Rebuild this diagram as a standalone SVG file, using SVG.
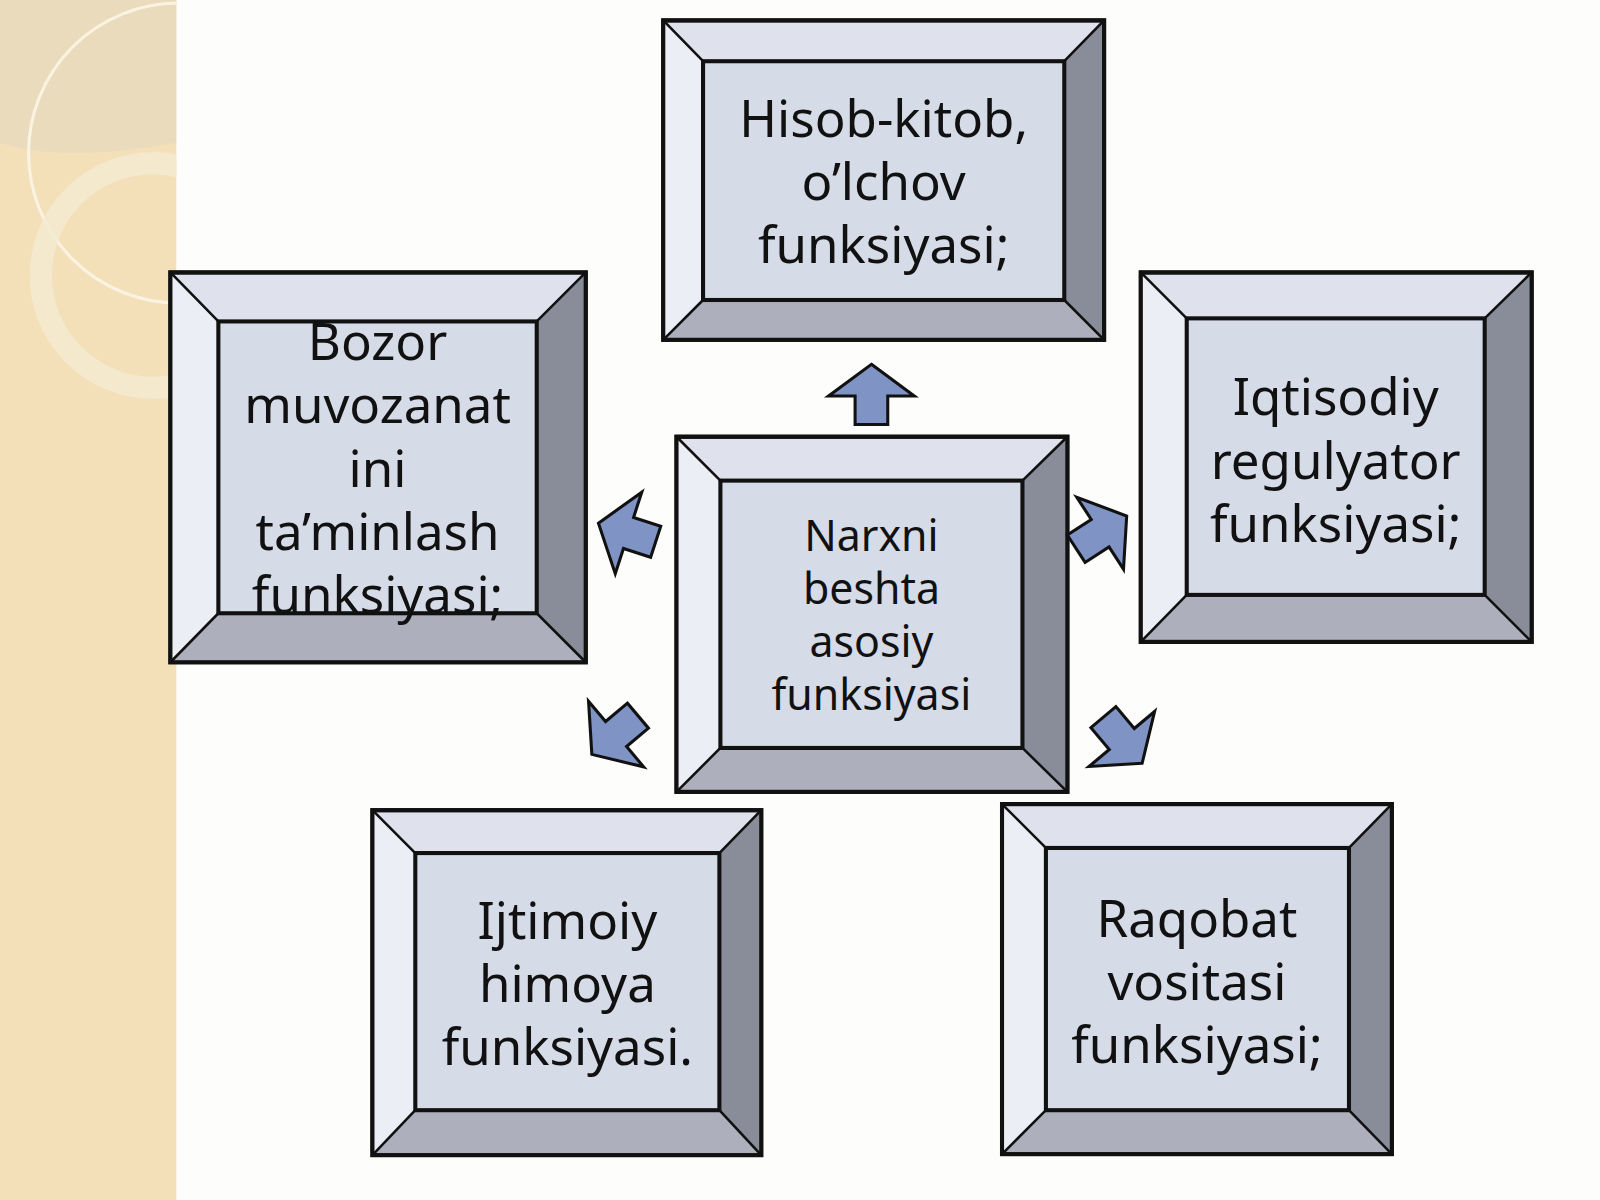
<svg xmlns="http://www.w3.org/2000/svg" width="1600" height="1200" viewBox="0 0 1600 1200">
<style>
.o{stroke:#111;stroke-width:4;stroke-linejoin:miter}
.t{fill:#dfe2ed}.l{fill:#eceef5}.r{fill:#898c99}.b{fill:#adb0bc}.c{fill:#d6dbe8}
.e{stroke:#111;stroke-width:2.5;fill:none}
text{font-family:"Noto Sans","Open Sans",sans-serif;fill:#111;text-anchor:middle}
.big{font-size:50px}.mid{font-size:42px}
.ar{fill:#7f93c4;stroke:#111;stroke-width:3;stroke-linejoin:miter}
</style>
<defs>
<path id="arw" d="M0,-30 L42,1 L16,1 L16,29 L-16,29 L-16,1 L-42,1 Z"/>
<clipPath id="strip"><rect x="0" y="0" width="173" height="1176"/></clipPath>
</defs>
<rect width="1600" height="1200" fill="#fdfdfb"/>
<g transform="scale(1.0204)">
<g id="bg" clip-path="url(#strip)">
<rect x="0" y="0" width="173" height="1176" fill="#f3dfb8"/>
<path d="M0,0 H173 V140 Q60,160 0,140 Z" fill="#e6d8bf" opacity="0.6"/>
<circle cx="175" cy="150" r="147" fill="none" stroke="#fbf3e2" stroke-width="3"/>
<circle cx="150" cy="270" r="110" fill="none" stroke="#f4ead2" stroke-width="22" opacity="0.8"/>
</g>
<g id="top">
<rect class="o t" x="650" y="20" width="432" height="313"/>
<polygon class="l" points="650,20 689,60 689,294 650,333"/>
<polygon class="r" points="1082,20 1043,60 1043,294 1082,333"/>
<polygon class="b" points="650,333 689,294 1043,294 1082,333"/>
<rect class="c" x="689" y="60" width="354" height="234"/>
<rect class="o" fill="none" x="650" y="20" width="432" height="313"/>
<path class="e" d="M650,20 L689,60 M1082,20 L1043,60 M650,333 L689,294 M1082,333 L1043,294"/>
<rect class="o" fill="none" x="689" y="60" width="354" height="234"/>
<text class="big" x="866" y="134">Hisob-kitob,</text>
<text class="big" x="866" y="196">o’lchov</text>
<text class="big" x="866" y="258">funksiyasi;</text>
</g>
<g id="left">
<rect class="o t" x="167" y="267" width="407" height="382"/>
<polygon class="l" points="167,267 214,315 214,601 167,649"/>
<polygon class="r" points="574,267 526,315 526,601 574,649"/>
<polygon class="b" points="167,649 214,601 526,601 574,649"/>
<rect class="c" x="214" y="315" width="312" height="286"/>
<rect class="o" fill="none" x="167" y="267" width="407" height="382"/>
<path class="e" d="M167,267 L214,315 M574,267 L526,315 M167,649 L214,601 M574,649 L526,601"/>
<rect class="o" fill="none" x="214" y="315" width="312" height="286"/>
<text class="big" x="370" y="353">Bozor</text>
<text class="big" x="370" y="415">muvozanat</text>
<text class="big" x="370" y="477">ini</text>
<text class="big" x="370" y="539">ta’minlash</text>
<text class="big" x="370" y="601">funksiyasi;</text>
</g>
<g id="right">
<rect class="o t" x="1118" y="267" width="383" height="362"/>
<polygon class="l" points="1118,267 1163,312 1163,583 1118,629"/>
<polygon class="r" points="1501,267 1455,312 1455,583 1501,629"/>
<polygon class="b" points="1118,629 1163,583 1455,583 1501,629"/>
<rect class="c" x="1163" y="312" width="292" height="271"/>
<rect class="o" fill="none" x="1118" y="267" width="383" height="362"/>
<path class="e" d="M1118,267 L1163,312 M1501,267 L1455,312 M1118,629 L1163,583 M1501,629 L1455,583"/>
<rect class="o" fill="none" x="1163" y="312" width="292" height="271"/>
<text class="big" x="1309" y="407">Iqtisodiy</text>
<text class="big" x="1309" y="469">regulyator</text>
<text class="big" x="1309" y="531">funksiyasi;</text>
</g>
<g id="center">
<rect class="o t" x="663" y="428" width="383" height="348"/>
<polygon class="l" points="663,428 706,471 706,733 663,776"/>
<polygon class="r" points="1046,428 1002,471 1002,733 1046,776"/>
<polygon class="b" points="663,776 706,733 1002,733 1046,776"/>
<rect class="c" x="706" y="471" width="296" height="262"/>
<rect class="o" fill="none" x="663" y="428" width="383" height="348"/>
<path class="e" d="M663,428 L706,471 M1046,428 L1002,471 M663,776 L706,733 M1046,776 L1002,733"/>
<rect class="o" fill="none" x="706" y="471" width="296" height="262"/>
<text class="mid" x="854" y="540">Narxni</text>
<text class="mid" x="854" y="592">beshta</text>
<text class="mid" x="854" y="644">asosiy</text>
<text class="mid" x="854" y="696">funksiyasi</text>
</g>
<g id="bottomleft">
<rect class="o t" x="365" y="794" width="381" height="338"/>
<polygon class="l" points="365,794 407,836 407,1088 365,1132"/>
<polygon class="r" points="746,794 705,836 705,1088 746,1132"/>
<polygon class="b" points="365,1132 407,1088 705,1088 746,1132"/>
<rect class="c" x="407" y="836" width="298" height="252"/>
<rect class="o" fill="none" x="365" y="794" width="381" height="338"/>
<path class="e" d="M365,794 L407,836 M746,794 L705,836 M365,1132 L407,1088 M746,1132 L705,1088"/>
<rect class="o" fill="none" x="407" y="836" width="298" height="252"/>
<text class="big" x="556" y="920">Ijtimoiy</text>
<text class="big" x="556" y="982">himoya</text>
<text class="big" x="556" y="1044">funksiyasi.</text>
</g>
<g id="bottomright">
<rect class="o t" x="982" y="788" width="382" height="343"/>
<polygon class="l" points="982,788 1025,831 1025,1088 982,1131"/>
<polygon class="r" points="1364,788 1322,831 1322,1088 1364,1131"/>
<polygon class="b" points="982,1131 1025,1088 1322,1088 1364,1131"/>
<rect class="c" x="1025" y="831" width="297" height="257"/>
<rect class="o" fill="none" x="982" y="788" width="382" height="343"/>
<path class="e" d="M982,788 L1025,831 M1364,788 L1322,831 M982,1131 L1025,1088 M1364,1131 L1322,1088"/>
<rect class="o" fill="none" x="1025" y="831" width="297" height="257"/>
<text class="big" x="1173" y="918">Raqobat</text>
<text class="big" x="1173" y="980">vositasi</text>
<text class="big" x="1173" y="1042">funksiyasi;</text>
</g>
<g id="connectors">
<use href="#arw" class="ar" transform="translate(854,387)"/>
<use href="#arw" class="ar" transform="translate(615,522) rotate(-72)"/>
<use href="#arw" class="ar" transform="translate(1079,522) rotate(57)"/>
<use href="#arw" class="ar" transform="translate(603,720) rotate(-130)"/>
<use href="#arw" class="ar" transform="translate(1100,725) rotate(140)"/>
</g>
</g>
</svg>
